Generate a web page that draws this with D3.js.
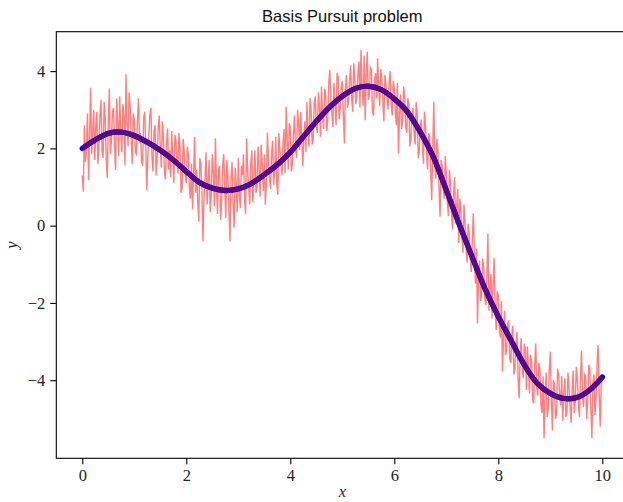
<!DOCTYPE html>
<html>
<head>
<meta charset="utf-8">
<script src="https://cdn.jsdelivr.net/npm/d3@7"></script>
<style>
  body { margin: 0; background: #fff; }
  svg { display: block; }
</style>
</head>
<body>
<script>
"use strict";

// noisy measurements, sampled every 0.02 on [0, 10] (one row per unit of x)
const noisyY = [
    1.30, 0.88, 2.60, 1.65, 1.95, 2.90, 1.18, 2.35, 3.57, 1.85, 2.45, 3.00, 1.70, 2.55, 2.95, 1.60, 2.10, 2.85, 3.25, 1.95, 1.75, 3.20, 2.80, 1.70, 1.23,
    2.65, 3.55, 1.85, 2.20, 2.95, 3.05, 2.05, 1.44, 3.30, 2.70, 1.80, 3.35, 2.40, 1.90, 3.15, 2.85, 1.55, 3.92, 2.70, 2.05, 3.45, 3.10, 2.25, 1.60, 2.90,
    2.75, 1.90, 1.85, 2.70, 3.30, 2.15, 2.40, 1.65, 1.55, 2.80, 2.95, 2.05, 0.92, 1.80, 2.35, 2.90, 3.05, 1.75, 1.40, 2.45, 2.60, 1.30, 1.75, 2.55, 2.85,
    2.00, 1.50, 2.70, 2.30, 1.35, 1.20, 2.15, 2.52, 1.45, 1.95, 1.25, 2.45, 1.80, 1.10, 2.35, 2.20, 1.65, 1.35, 2.40, 2.05, 0.85, 0.95, 2.25, 1.90, 1.30,
    1.10, 2.05, 1.85, 0.95, 0.70, 1.60, 0.42, 1.35, 2.30, 0.85, 1.45, 0.60, 0.10, 1.75, 1.60, 0.90, -0.41, 0.75, 1.20, 1.90, 0.55, 1.15, 1.70, 0.35, 0.80,
    1.85, 1.40, 0.50, 2.26, 1.05, 0.30, 1.45, 1.55, 0.15, 0.65, 1.60, 1.85, 0.95, 0.20, 1.70, 1.30, 0.40, -0.41, 1.25, 1.65, 0.55, -0.05, 1.50, 1.10, 0.35,
    1.75, 0.80, 0.45, 1.55, 1.30, 1.85, 0.70, 0.30, 2.26, 1.40, 1.00, 0.55, 1.60, 1.95, 0.60, 1.20, 1.95, 0.85, 0.95, 2.05, 1.50, 0.75, 2.10, 1.60, 0.90,
    1.85, 0.54, 1.15, 2.41, 1.70, 1.20, 0.95, 1.85, 2.20, 1.05, 1.45, 2.30, 1.10, 0.80, 2.40, 1.95, 1.60, 1.30, 2.15, 2.50, 1.35, 3.08, 2.20, 1.45, 2.65,
    2.55, 1.40, 1.60, 2.35, 2.85, 2.05, 1.75, 3.00, 2.60, 1.95, 2.95, 2.30, 1.53, 2.25, 2.70, 1.90, 3.20, 2.40, 2.05, 3.30, 3.00, 2.10, 2.25, 3.15, 3.35,
    2.55, 2.40, 3.45, 3.10, 2.30, 3.60, 2.85, 2.50, 3.55, 3.40, 2.45, 2.75, 3.70, 4.03, 3.25, 2.90, 2.55, 3.70, 3.15, 2.60, 3.95, 3.85, 2.75, 3.05, 3.60,
    3.75, 2.90, 2.13, 3.55, 3.90, 3.05, 3.20, 3.75, 4.15, 3.30, 2.95, 4.20, 3.85, 3.15, 3.35, 3.95, 4.25, 3.05, 4.55, 3.60, 3.10, 4.40, 2.73, 3.85, 4.50,
    3.25, 3.40, 4.10, 4.05, 2.95, 2.85, 3.75, 3.95, 3.30, 4.33, 3.55, 3.10, 4.05, 3.80, 3.20, 2.70, 3.90, 3.65, 3.30, 3.00, 3.70, 4.00, 3.15, 2.85, 3.75,
    3.55, 2.95, 2.60, 3.70, 1.87, 2.85, 3.40, 2.50, 2.70, 3.60, 3.35, 2.55, 2.40, 3.30, 3.15, 2.05, 2.25, 2.80, 3.05, 2.40, 2.10, 3.20, 2.90, 1.75, 1.95,
    2.60, 2.75, 2.15, 1.60, 2.95, 2.55, 1.90, 1.45, 2.40, 2.30, 1.35, 0.66, 2.05, 3.21, 1.55, 1.20, 2.25, 1.90, 0.95, 0.23, 1.70, 1.55, 1.00, 0.70, 1.80,
    1.35, 0.60, 0.25, 1.45, 1.10, 0.35, -0.10, 0.80, 1.25, 0.05, 0.50, 0.95, -0.45, 0.70, 0.40, -0.30, -0.70, 0.55, 0.10, -0.55, -0.95, 0.05, -0.20, -0.85, -1.20,
    -0.35, 0.32, -0.70, -1.50, -0.60, -2.53, -1.30, -0.90, -1.95, -1.75, -0.85, -1.10, -1.90, -2.05, -1.35, -0.20, -2.20, -1.60, -1.25, -2.40, -1.45, -0.84, -2.15, -2.70, -1.70,
    -1.80, -2.65, -2.90, -1.95, -3.78, -2.85, -2.20, -3.35, -3.20, -2.55, -2.45, -3.45, -3.55, -2.80, -2.60, -3.85, -3.70, -3.05, -2.75, -3.95, -4.47, -3.40, -2.91, -3.75, -3.95,
    -3.05, -3.20, -4.25, -3.13, -3.70, -4.35, -3.35, -3.50, -4.50, -4.60, -3.60, -3.05, -4.20, -4.40, -3.55, -3.70, -4.65, -4.85, -3.90, -5.50, -4.35, -3.80, -4.95, -4.75, -3.75,
    -3.26, -4.45, -5.30, -4.00, -4.10, -5.00, -4.90, -3.70, -3.85, -4.35, -4.65, -3.90, -5.05, -4.30, -3.95, -4.95, -4.80, -3.80, -4.20, -4.70, -5.10, -4.25, -3.75, -4.85, -4.55,
    -3.65, -4.00, -4.60, -4.95, -3.95, -3.23, -4.40, -4.70, -3.85, -3.90, -5.00, -4.50, -3.60, -3.70, -4.75, -5.50, -4.05, -3.85, -4.90, -4.45, -3.55, -3.09, -4.35, -5.20, -4.10,
    -3.90
]
const noisyX = noisyY.map((d, i) => i * 0.02)

// recovered signal (basis pursuit solution)
const smoothX = [0, 0.25, 0.5, 0.75, 1, 1.25, 1.5, 1.75, 2, 2.25, 2.5, 2.75, 3, 3.25, 3.5, 3.75, 4, 4.25, 4.5, 4.75,
    5, 5.25, 5.5, 5.75, 6, 6.25, 6.5, 6.75, 7, 7.25, 7.5, 7.75, 8, 8.25, 8.5, 8.75, 9, 9.25, 9.5, 9.75, 10]
const smoothY = [2.00, 2.22, 2.39, 2.42, 2.33, 2.16, 1.95, 1.70, 1.40, 1.12, 0.97, 0.91, 0.95, 1.09, 1.32, 1.58, 1.90, 2.30, 2.70, 3.06,
    3.35, 3.55, 3.61, 3.52, 3.28, 2.95, 2.42, 1.78, 0.92, 0.03, -0.82, -1.65, -2.35, -2.98, -3.60, -4.08, -4.34, -4.47, -4.45, -4.26, -3.92]

const xTicks = [0, 2, 4, 6, 8, 10]
const yTicks = [-4, -2, 0, 2, 4]

const m = {
    width: 623,
    height: 502,
    left: 56.3,
    top: 31.7,
    right: 628.3,
    bottom: 458.3
}

const svg = d3.select("body").append("svg")
    .attr("width", m.width)
    .attr("height", m.height)

const x = d3.scaleLinear().domain([-0.5, 10.5]).range([m.left, m.right])
const y = d3.scaleLinear().domain([-6.02, 5.02]).range([m.bottom, m.top])

svg.append("clipPath").attr("id", "plot")
    .append("rect")
    .attr("x", m.left).attr("y", m.top)
    .attr("width", m.right - m.left).attr("height", m.bottom - m.top)

const g = svg.append("g").attr("clip-path", "url(#plot)")

const noisyLine = d3.line()
    .x((d, i) => x(noisyX[i]))
    .y(d => y(d))

const smoothLine = d3.line()
    .x((d, i) => x(smoothX[i]))
    .y(d => y(d))
    .curve(d3.curveCatmullRom)

g.append("path")
    .datum(noisyY)
    .attr("fill", "none")
    .attr("stroke", "red")
    .attr("stroke-opacity", 0.5)
    .attr("stroke-width", 1.4)
    .attr("d", noisyLine)

// true signal in blue, recovered one drawn on top
g.append("path")
    .datum(smoothY)
    .attr("fill", "none")
    .attr("stroke", "blue")
    .attr("stroke-width", 5.4)
    .attr("stroke-linecap", "round")
    .attr("d", smoothLine)

g.append("path")
    .datum(smoothY)
    .attr("fill", "none")
    .attr("stroke", "rgb(88,10,130)")
    .attr("stroke-width", 4.8)
    .attr("d", smoothLine)

// axes
const xAxis = svg.append("g")
    .attr("transform", `translate(0,${m.bottom})`)
    .call(d3.axisBottom(x).tickValues(xTicks).tickSize(6).tickPadding(5).tickFormat(d3.format("d")))

const yAxis = svg.append("g")
    .attr("transform", `translate(${m.left},0)`)
    .call(d3.axisLeft(y).tickValues(yTicks).tickSize(6).tickPadding(5)
        .tickFormat(d => d < 0 ? "\u2212" + Math.abs(d) : d))

for (const ax of [xAxis, yAxis]) {
    ax.select(".domain").remove()
    ax.selectAll(".tick line").attr("stroke", "#000").attr("stroke-width", 1.1)
    ax.selectAll(".tick text")
        .attr("fill", "#222")
        .style("font-family", "'Liberation Serif', 'DejaVu Serif', serif")
        .style("font-size", "16.5px")
}

// frame
svg.append("rect")
    .attr("x", m.left).attr("y", m.top)
    .attr("width", m.right - m.left).attr("height", m.bottom - m.top)
    .attr("fill", "none")
    .attr("stroke", "#000")
    .attr("stroke-width", 1.1)

svg.append("text")
    .attr("x", (m.left + m.right) / 2)
    .attr("y", 21.7)
    .attr("text-anchor", "middle")
    .style("font-family", "'Liberation Sans', Arial, sans-serif")
    .style("font-size", "16.5px")
    .attr("fill", "#111")
    .text("Basis Pursuit problem")

svg.append("text")
    .attr("x", (m.left + m.right) / 2)
    .attr("y", 497)
    .attr("text-anchor", "middle")
    .style("font-family", "'Liberation Serif', serif")
    .style("font-style", "italic")
    .style("font-size", "16.5px")
    .attr("fill", "#222")
    .text("x")

svg.append("text")
    .attr("transform", "translate(17,245) rotate(-90)")
    .attr("text-anchor", "middle")
    .style("font-family", "'Liberation Serif', serif")
    .style("font-style", "italic")
    .style("font-size", "16.5px")
    .attr("fill", "#222")
    .text("y")
</script>
</body>
</html>
